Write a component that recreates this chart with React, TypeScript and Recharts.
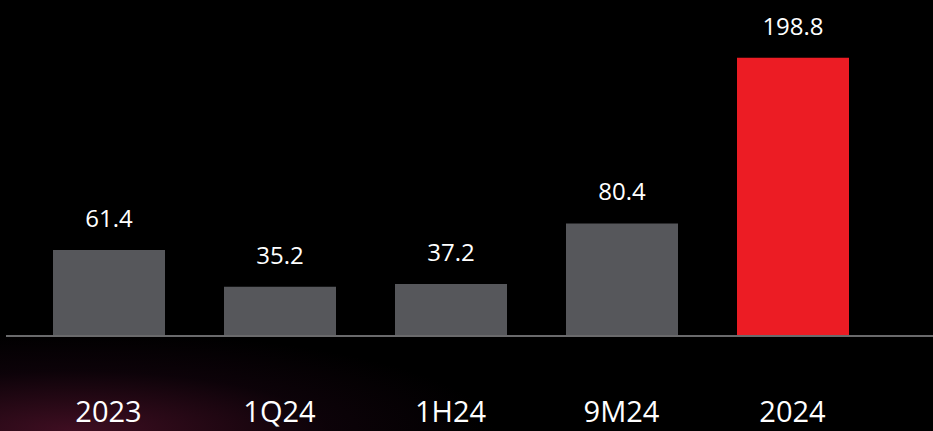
import { BarChart, Bar, XAxis, YAxis, Cell, LabelList } from "recharts";

const categories = ["2023", "1Q24", "1H24", "9M24", "2024"];
const values = [61.4, 35.2, 37.2, 80.4, 198.8];
const highlight = [false, false, false, false, true];

const data = categories.map((c, i) => ({ name: c, value: values[i], hi: highlight[i] }));

const GRAY = "#56575b";
const RED = "#ec1c24";
const FONT = "'Open Sans', sans-serif";

function XTick({ x, y, payload }: { x?: number; y?: number; payload?: { value: string } }) {
  return (
    <text
      x={x}
      y={(y ?? 0) + 86}
      textAnchor="middle"
      fill="#ffffff"
      fontSize={29}
      fontFamily={FONT}
    >
      {payload?.value}
    </text>
  );
}

export default function App() {
  return (
    <div
      style={{
        position: "fixed",
        left: 0,
        top: 0,
        width: 933,
        height: 431,
        background:
          "radial-gradient(ellipse 420px 100px at 8% 100%, rgba(90,20,48,0.7), rgba(40,8,28,0.3) 60%, rgba(0,0,0,0) 100%), #000",
      }}
    >
      <BarChart
        width={933}
        height={431}
        data={data}
        margin={{ top: 0, right: 0, bottom: 0, left: 6 }}
      >
        <XAxis
          dataKey="name"
          height={95}
          padding={{ left: 17, right: 55 }}
          axisLine={{ stroke: "#6a6a6c", strokeWidth: 2 }}
          tickLine={false}
          tickSize={0}
          tickMargin={0}
          tick={<XTick />}
          interval={0}
        />
        <YAxis hide domain={[0, 240]} />
        <Bar dataKey="value" barSize={112} isAnimationActive={false}>
          {data.map((d, i) => (
            <Cell key={i} fill={d.hi ? RED : GRAY} />
          ))}
          <LabelList
            dataKey="value"
            position="top"
            offset={23}
            fill="#ffffff"
            fontSize={24}
            fontFamily={FONT}
            formatter={(v: number) => v.toFixed(1)}
          />
        </Bar>
      </BarChart>
    </div>
  );
}
